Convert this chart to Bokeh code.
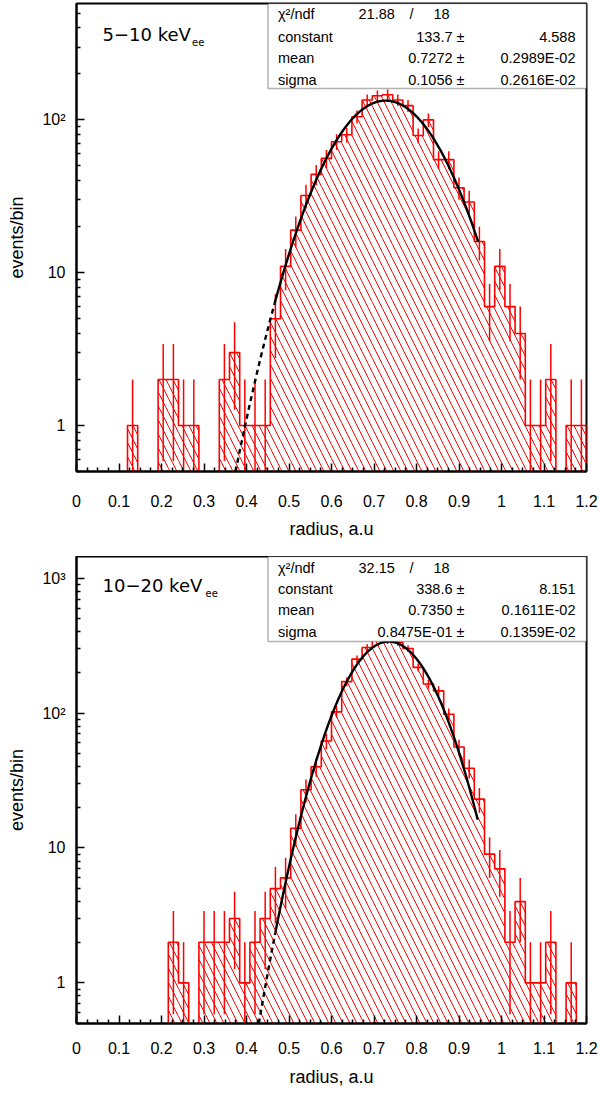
import numpy as np
from bokeh.plotting import figure
from bokeh.models import Range1d, FixedTicker, Label, BoxAnnotation
from bokeh.layouts import column
from bokeh.embed import file_html
from bokeh.resources import INLINE

# ---------------- data ----------------
x_min, x_max, n_bins = 0.0, 1.2, 50
bin_edges = np.linspace(x_min, x_max, n_bins + 1)

counts_5_10 = [0, 0, 0, 0, 0, 1, 0, 0, 2, 2,
               1, 1, 0, 0, 2, 3, 1, 1, 1, 5,
               11, 19, 32, 44, 56, 72, 80, 105, 135, 144,
               146, 135, 124, 79, 100, 55, 55, 36, 29, 16,
               6, 11, 6, 4, 1, 1, 2, 0, 1, 1]

counts_10_20 = [0, 0, 0, 0, 0, 0, 0, 0, 0, 2,
                1, 0, 2, 2, 2, 3, 1, 2, 3, 5,
                6, 14, 27, 40, 62, 102, 171, 251, 306, 363,
                343, 334, 301, 218, 164, 146, 98, 56, 39, 23,
                9, 7, 2, 4, 1, 1, 2, 0, 1, 0]

fit_5_10 = dict(const=133.7, mean=0.7272, sigma=0.1056, lo=0.466, hi=0.945)
fit_10_20 = dict(const=338.6, mean=0.7350, sigma=0.08475, lo=0.468, hi=0.944)

stats_5_10 = [("\u03c7\u00b2/ndf", "21.88", "18"),
              ("constant", "133.7 \u00b1", "4.588"),
              ("mean", "0.7272 \u00b1", "0.2989E-02"),
              ("sigma", "0.1056 \u00b1", "0.2616E-02")]
stats_10_20 = [("\u03c7\u00b2/ndf", "32.15", "18"),
               ("constant", "338.6 \u00b1", "8.151"),
               ("mean", "0.7350 \u00b1", "0.1611E-02"),
               ("sigma", "0.8475E-01 \u00b1", "0.1359E-02")]

x_tick_values = [0, 0.1, 0.2, 0.3, 0.4, 0.5, 0.6, 0.7, 0.8, 0.9, 1.0, 1.1, 1.2]
x_tick_labels = ["0", "0.1", "0.2", "0.3", "0.4", "0.5", "0.6", "0.7", "0.8", "0.9", "1", "1.1", "1.2"]
y_tick_values = [1, 10, 100, 1000]
y_tick_labels = ["1", "10", "10\u00b2", "10\u00b3"]

FONT = "Liberation Sans"
FIG_W = 600
FRAME_L, FRAME_R = 76, 586


def make_panel(counts, fit, stats, label_main, y_max, page_top, fig_h, frame_top, frame_bot,
               label_standoff, axis_label_standoff, label_y, row_ys, box_bot, sub_x):
    counts = np.asarray(counts, dtype=float)
    y_min = 0.5
    frame_h = frame_bot - frame_top
    b_top = int(frame_top - page_top)
    b_bot = int(fig_h - b_top - frame_h)
    p = figure(width=FIG_W, height=fig_h, x_range=Range1d(x_min, x_max),
               y_range=Range1d(y_min, y_max), y_axis_type="log",
               output_backend="svg", toolbar_location=None,
               min_border_left=FRAME_L, min_border_right=FIG_W - FRAME_R,
               min_border_top=b_top, min_border_bottom=b_bot)
    p.xgrid.visible = False
    p.ygrid.visible = False
    p.outline_line_color = "black"
    p.outline_line_width = 2
    p.background_fill_color = "white"

    def px2x(px):
        return x_min + (px - FRAME_L) / (FRAME_R - FRAME_L) * (x_max - x_min)

    def py2y(py):
        lg = np.log10(y_min) + (frame_bot - py) / frame_h * np.log10(y_max / y_min)
        return float(10 ** lg)

    lefts = bin_edges[:-1]
    rights = bin_edges[1:]
    centers = 0.5 * (lefts + rights)
    nz = counts > 0

    # hatched fill
    p.quad(left=lefts[nz], right=rights[nz], bottom=y_min, top=counts[nz],
           fill_alpha=0, line_alpha=0, hatch_pattern="\\", hatch_color="red",
           hatch_scale=14, hatch_weight=1)

    # outline
    low = 0.3
    xs, ys = [x_min], [low]
    for l, r, h in zip(lefts, rights, counts):
        hh = h if h > 0 else low
        xs += [l, r]
        ys += [hh, hh]
    xs.append(x_max)
    ys.append(low)
    p.line(xs, ys, line_color="red", line_width=1.6)

    # error bars
    err = np.sqrt(counts[nz])
    p.segment(x0=centers[nz], x1=centers[nz], y0=np.maximum(counts[nz] - err, low),
              y1=counts[nz] + err, line_color="red", line_width=1.5)

    # gaussian fit
    c, m, s = fit["const"], fit["mean"], fit["sigma"]
    x_start = m - s * np.sqrt(2 * np.log(c / y_min))
    xd = np.linspace(x_start, fit["lo"], 40)
    xf = np.linspace(fit["lo"], fit["hi"], 300)
    g = lambda x: c * np.exp(-0.5 * ((x - m) / s) ** 2)
    p.line(xd, g(xd), line_color="black", line_width=2.4, line_dash="5 4")
    p.line(xf, g(xf), line_color="black", line_width=2.4)

    # axes
    minor_x = [round(0.025 * i, 4) for i in range(49) if i % 4 != 0]
    p.xaxis.ticker = FixedTicker(ticks=x_tick_values, minor_ticks=minor_x)
    p.xaxis.major_label_overrides = {v: t for v, t in zip(x_tick_values, x_tick_labels)}
    minor_y = [k * 10 ** e for e in range(-1, 4) for k in range(2, 10)]
    p.yaxis.ticker = FixedTicker(ticks=y_tick_values, minor_ticks=minor_y)
    p.yaxis.major_label_overrides = {v: t for v, t in zip(y_tick_values, y_tick_labels)}
    for ax in (p.xaxis[0], p.yaxis[0]):
        ax.axis_line_width = 2
        ax.axis_line_color = "black"
        ax.major_tick_in = 8
        ax.major_tick_out = 0
        ax.minor_tick_in = 4
        ax.minor_tick_out = 0
        ax.major_tick_line_width = 1.5
        ax.minor_tick_line_width = 1.5
        ax.major_label_text_font = FONT
        ax.major_label_text_font_size = "16px"
        ax.major_label_text_color = "black"
        ax.axis_label_text_font = FONT
        ax.axis_label_text_font_size = "18px"
        ax.axis_label_text_font_style = "normal"
        ax.axis_label_text_color = "black"
    p.xaxis.axis_label = "radius, a.u"
    p.yaxis.axis_label = "events/bin"
    p.xaxis.major_label_standoff = label_standoff
    p.xaxis.axis_label_standoff = axis_label_standoff
    p.yaxis.major_label_standoff = 11
    p.yaxis.axis_label_standoff = 12

    # panel label
    p.add_layout(Label(x=px2x(102), y=py2y(label_y), text=label_main, text_font="DejaVu Sans",
                       text_font_size="18px", text_baseline="middle", text_align="left",
                       text_color="black"))
    p.add_layout(Label(x=px2x(sub_x), y=py2y(label_y + 7), text="ee", text_font="DejaVu Sans",
                       text_font_size="10px", text_baseline="middle", text_align="left",
                       text_color="black"))

    # stats box
    p.add_layout(BoxAnnotation(left=px2x(267.5), right=x_max, top=y_max, bottom=py2y(box_bot),
                               fill_color="white", fill_alpha=1.0, line_color="black",
                               line_width=1.5))
    for i, (name, val, e) in enumerate(stats):
        yy = py2y(row_ys[i])
        p.add_layout(Label(x=px2x(277.5), y=yy, text=name, text_font=FONT, text_font_size="14.5px",
                           text_baseline="middle", text_align="left", text_color="black"))
        if i == 0:
            p.add_layout(Label(x=px2x(358), y=yy, text=val, text_font=FONT, text_font_size="14.5px",
                               text_baseline="middle", text_align="left", text_color="black"))
            p.add_layout(Label(x=px2x(411), y=yy, text="/", text_font=FONT, text_font_size="14.5px",
                               text_baseline="middle", text_align="center", text_color="black"))
            p.add_layout(Label(x=px2x(433), y=yy, text=e, text_font=FONT, text_font_size="14.5px",
                               text_baseline="middle", text_align="left", text_color="black"))
        else:
            p.add_layout(Label(x=px2x(464), y=yy, text=val, text_font=FONT, text_font_size="14.5px",
                               text_baseline="middle", text_align="right", text_color="black"))
            p.add_layout(Label(x=px2x(575), y=yy, text=e, text_font=FONT, text_font_size="14.5px",
                               text_baseline="middle", text_align="right", text_color="black"))
    return p


# page has no margin in Bokeh's template: geometry below is in page pixels
p1 = make_panel(counts_5_10, fit_5_10, stats_5_10, "5\u221210 keV", y_max=578,
                page_top=0, fig_h=556, frame_top=3, frame_bot=471,
                label_standoff=23, axis_label_standoff=9, label_y=34,
                row_ys=[13.3, 36, 57.7, 79.3], box_bot=88, sub_x=191.5)
p2 = make_panel(counts_10_20, fit_10_20, stats_10_20, "10\u221220 keV", y_max=1446,
                page_top=556, fig_h=540, frame_top=556, frame_bot=1023,
                label_standoff=18, axis_label_standoff=10, label_y=585,
                row_ys=[567.7, 588.3, 609.3, 631], box_bot=641, sub_x=205)

layout = column(p1, p2, spacing=0)
open("out.html", "w").write(file_html(layout, INLINE))
